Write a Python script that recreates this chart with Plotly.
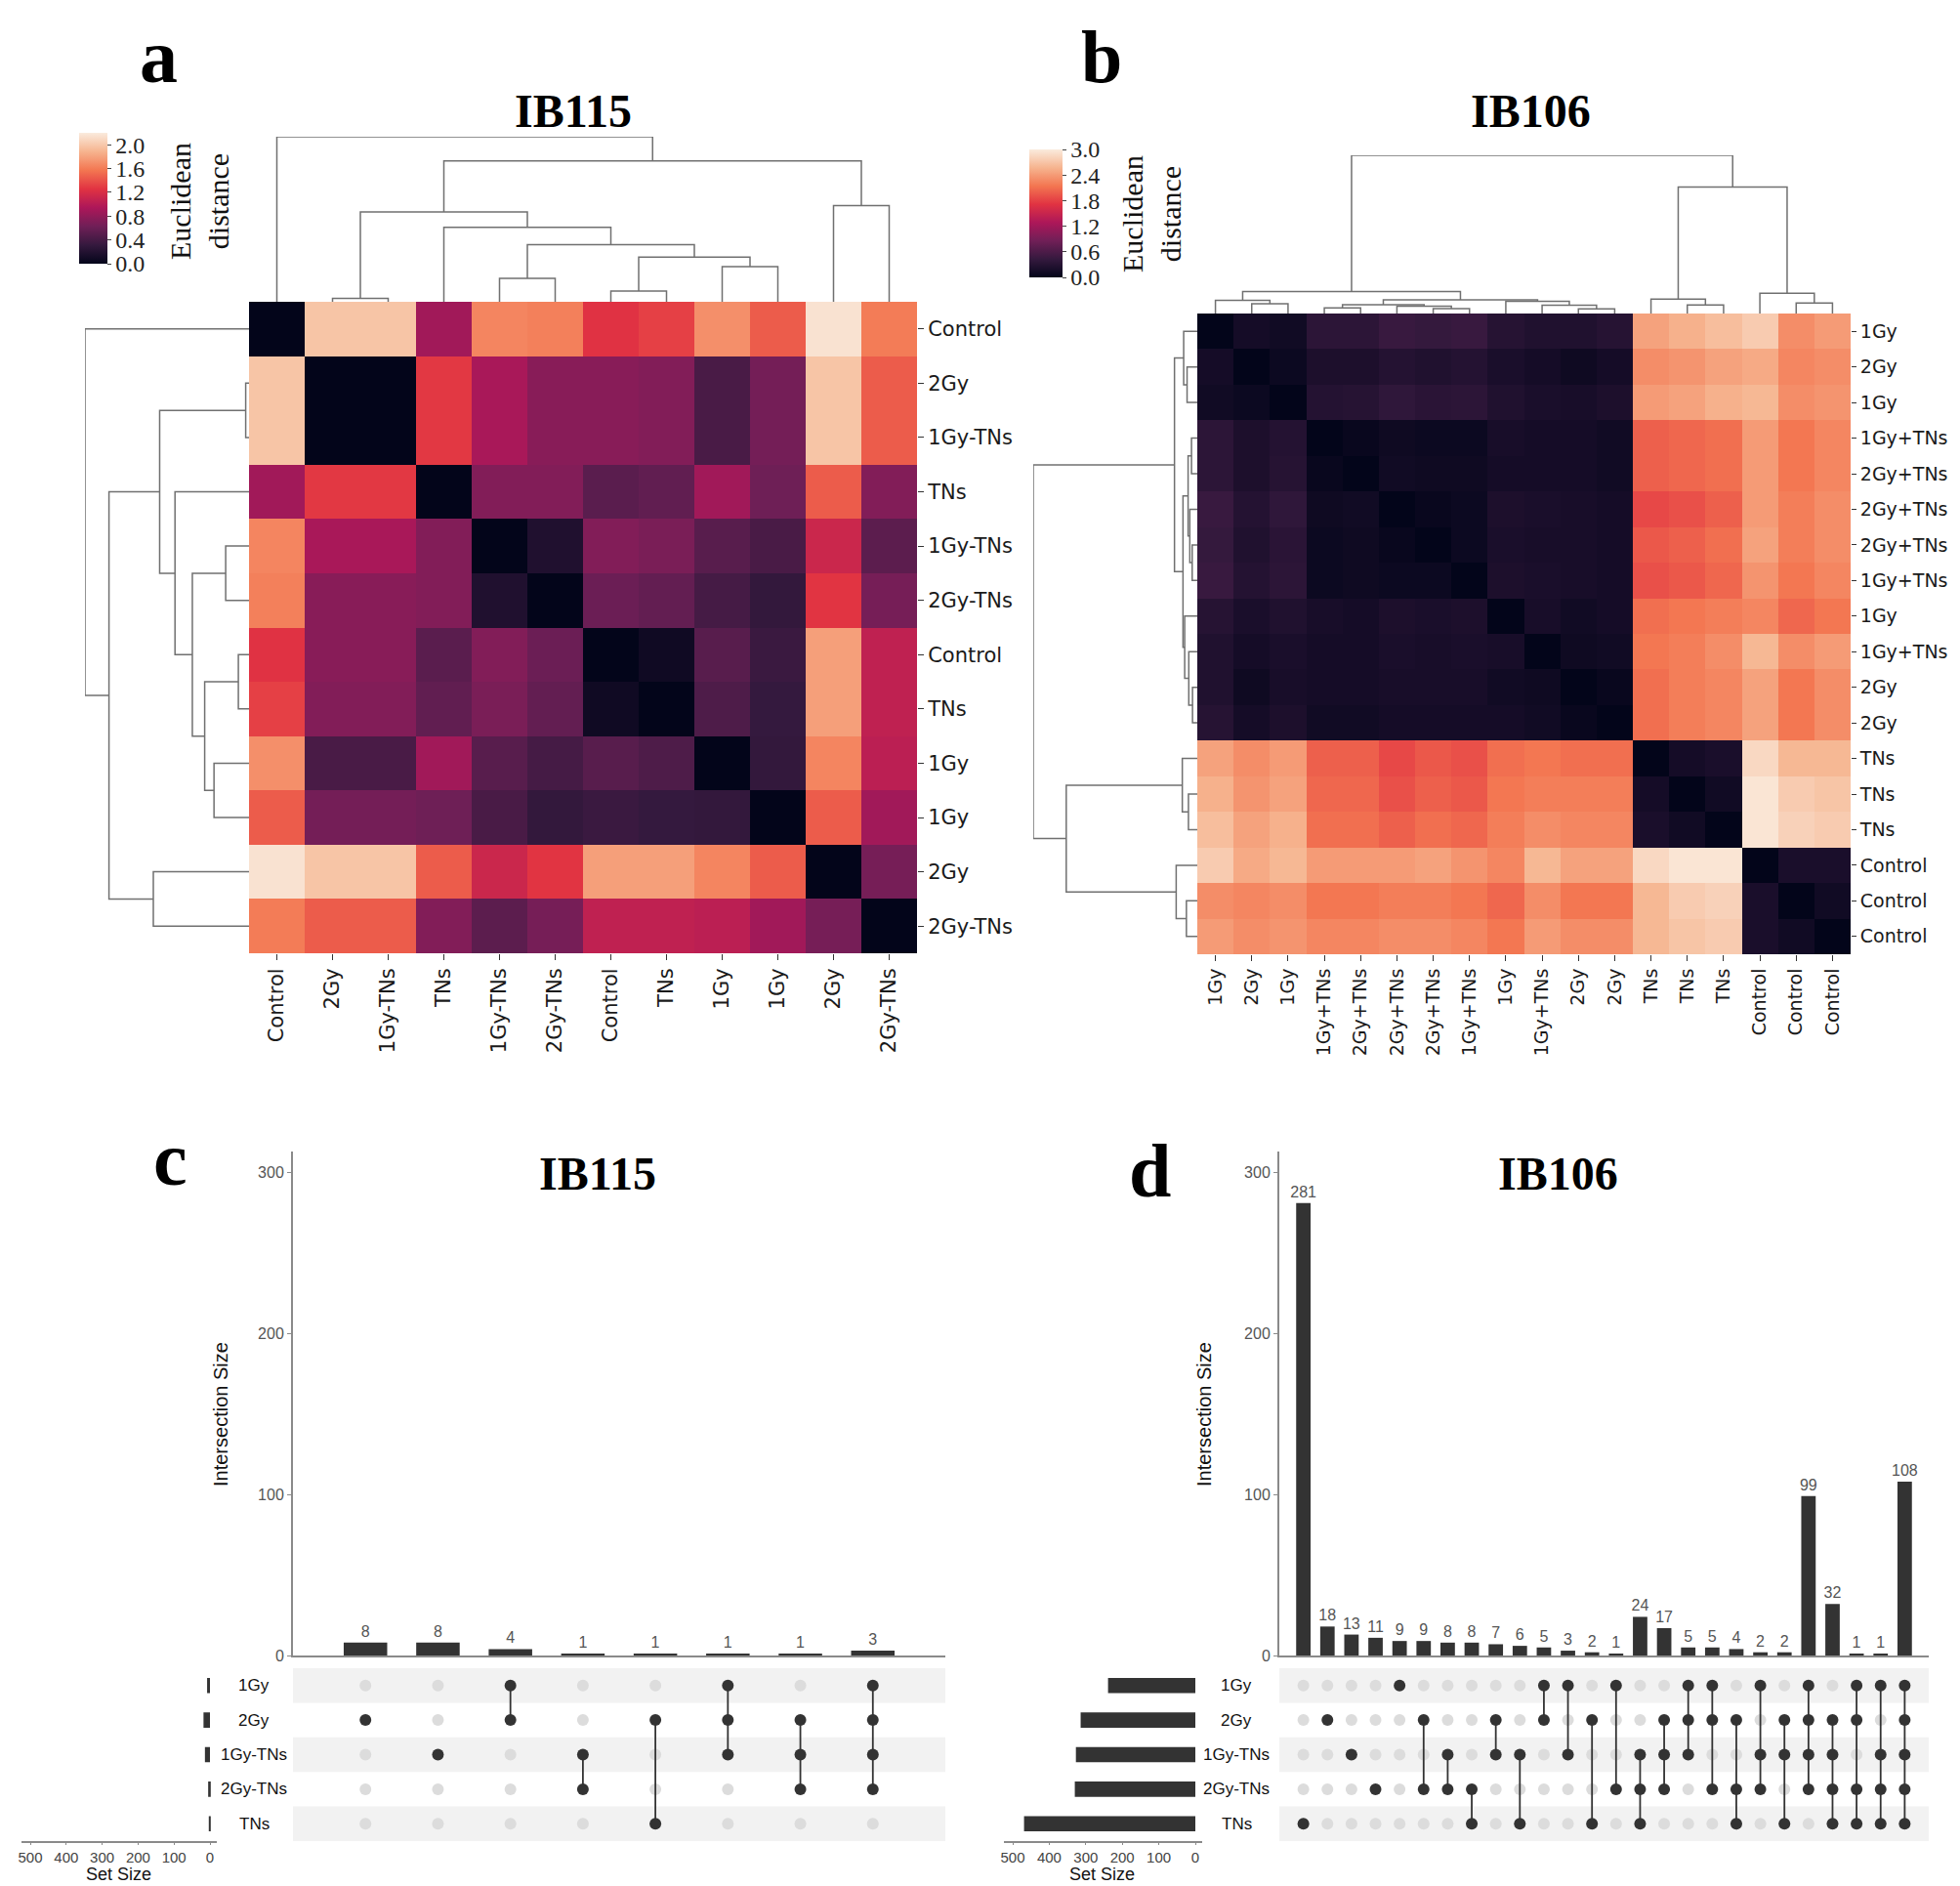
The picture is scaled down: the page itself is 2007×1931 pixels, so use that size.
import plotly.graph_objects as go

# ---------------- data ----------------
labels_a = ["Control", "2Gy", "1Gy-TNs", "TNs", "1Gy-TNs", "2Gy-TNs",
            "Control", "TNs", "1Gy", "1Gy", "2Gy", "2Gy-TNs"]
dist_a = [
    [0.00, 1.98, 1.98, 0.88, 1.65, 1.62, 1.25, 1.32, 1.70, 1.45, 2.15, 1.60],
    [1.98, 0.00, 0.00, 1.28, 0.92, 0.75, 0.75, 0.72, 0.42, 0.65, 1.98, 1.45],
    [1.98, 0.00, 0.00, 1.28, 0.92, 0.75, 0.75, 0.72, 0.42, 0.65, 1.98, 1.45],
    [0.88, 1.28, 1.28, 0.00, 0.72, 0.72, 0.51, 0.55, 0.88, 0.62, 1.45, 0.72],
    [1.65, 0.92, 0.92, 0.72, 0.00, 0.18, 0.72, 0.68, 0.50, 0.42, 1.12, 0.52],
    [1.62, 0.75, 0.75, 0.72, 0.18, 0.00, 0.60, 0.56, 0.40, 0.30, 1.26, 0.66],
    [1.25, 0.75, 0.75, 0.51, 0.72, 0.60, 0.00, 0.08, 0.50, 0.34, 1.78, 1.05],
    [1.32, 0.72, 0.72, 0.55, 0.68, 0.56, 0.08, 0.00, 0.45, 0.31, 1.78, 1.05],
    [1.70, 0.42, 0.42, 0.88, 0.50, 0.40, 0.50, 0.45, 0.00, 0.30, 1.65, 1.03],
    [1.45, 0.65, 0.65, 0.62, 0.42, 0.30, 0.34, 0.31, 0.30, 0.00, 1.45, 0.88],
    [2.15, 1.98, 1.98, 1.45, 1.12, 1.26, 1.78, 1.78, 1.65, 1.45, 0.00, 0.66],
    [1.60, 1.45, 1.45, 0.72, 0.52, 0.66, 1.05, 1.05, 1.03, 0.88, 0.66, 0.00],
]
# linkage: (child_a, child_b, merge height); new clusters numbered from n upward
linkage_a = [(1, 2, 10), (4, 5, 70), (6, 7, 32), (8, 9, 105), (14, 15, 133),
             (13, 16, 170), (3, 17, 222), (12, 18, 268), (10, 11, 287),
             (19, 20, 420), (0, 21, 492)]
cbar_ticks_a = [0.0, 0.4, 0.8, 1.2, 1.6, 2.0]

labels_b = ["1Gy", "2Gy", "1Gy", "1Gy+TNs", "2Gy+TNs", "2Gy+TNs", "2Gy+TNs",
            "1Gy+TNs", "1Gy", "1Gy+TNs", "2Gy", "2Gy", "TNs", "TNs", "TNs",
            "Control", "Control", "Control"]
dist_b = [
    [0, .15, .12, .35, .35, .45, .42, .45, .30, .25, .25, .30, 2.45, 2.55, 2.65, 2.75, 2.30, 2.40],
    [.15, 0, .08, .22, .22, .28, .25, .28, .20, .15, .10, .15, 2.30, 2.35, 2.45, 2.50, 2.25, 2.30],
    [.12, .08, 0, .28, .30, .38, .33, .35, .25, .20, .18, .22, 2.40, 2.45, 2.55, 2.60, 2.30, 2.35],
    [.35, .22, .28, 0, .05, .10, .08, .08, .18, .15, .15, .12, 2.00, 2.05, 2.10, 2.40, 2.15, 2.25],
    [.35, .22, .30, .05, 0, .12, .10, .10, .15, .15, .15, .12, 2.00, 2.05, 2.10, 2.40, 2.15, 2.25],
    [.45, .28, .38, .10, .12, 0, .05, .08, .22, .20, .18, .15, 1.85, 1.90, 2.00, 2.40, 2.20, 2.30],
    [.42, .25, .33, .08, .10, .05, 0, .08, .20, .18, .18, .15, 1.95, 2.00, 2.10, 2.45, 2.20, 2.30],
    [.45, .28, .35, .08, .10, .08, .08, 0, .22, .20, .18, .15, 1.90, 1.95, 2.05, 2.35, 2.15, 2.25],
    [.30, .20, .25, .18, .15, .22, .20, .22, 0, .18, .12, .15, 2.10, 2.15, 2.20, 2.25, 2.05, 2.15],
    [.25, .15, .20, .15, .15, .20, .18, .20, .18, 0, .10, .12, 2.15, 2.20, 2.30, 2.60, 2.30, 2.40],
    [.25, .10, .18, .15, .15, .18, .18, .18, .12, .10, 0, .05, 2.10, 2.20, 2.25, 2.45, 2.15, 2.30],
    [.30, .15, .22, .12, .12, .15, .15, .15, .15, .12, .05, 0, 2.10, 2.20, 2.25, 2.45, 2.15, 2.30],
    [2.45, 2.30, 2.40, 2.00, 2.00, 1.85, 1.95, 1.90, 2.10, 2.15, 2.10, 2.10, 0, .15, .20, 2.85, 2.60, 2.60],
    [2.55, 2.35, 2.45, 2.05, 2.05, 1.90, 2.00, 1.95, 2.15, 2.20, 2.20, 2.20, .15, 0, .12, 2.95, 2.75, 2.70],
    [2.65, 2.45, 2.55, 2.10, 2.10, 2.00, 2.10, 2.05, 2.20, 2.30, 2.25, 2.25, .20, .12, 0, 2.95, 2.80, 2.75],
    [2.75, 2.50, 2.60, 2.40, 2.40, 2.40, 2.45, 2.35, 2.25, 2.60, 2.45, 2.45, 2.85, 2.95, 2.95, 0, .20, .20],
    [2.30, 2.25, 2.30, 2.15, 2.15, 2.20, 2.20, 2.15, 2.05, 2.30, 2.15, 2.15, 2.60, 2.75, 2.80, .20, 0, .12],
    [2.40, 2.30, 2.35, 2.25, 2.25, 2.30, 2.30, 2.25, 2.15, 2.40, 2.30, 2.30, 2.60, 2.70, 2.75, .20, .12, 0],
]
linkage_b = [(1, 2, 30), (0, 18, 40), (3, 4, 17), (6, 7, 15), (5, 21, 22),
             (20, 22, 27), (10, 11, 14), (9, 24, 25), (8, 25, 37), (23, 26, 42),
             (19, 27, 67), (13, 14, 26), (12, 29, 44), (16, 17, 32), (15, 31, 62),
             (30, 32, 385), (28, 33, 482)]
cbar_ticks_b = [0.0, 0.6, 1.2, 1.8, 2.4, 3.0]

set_names = ["1Gy", "2Gy", "1Gy-TNs", "2Gy-TNs", "TNs"]

inter_c_sets = [["2Gy"], ["1Gy-TNs"], ["1Gy", "2Gy"], ["1Gy-TNs", "2Gy-TNs"],
                ["2Gy", "TNs"], ["1Gy", "2Gy", "1Gy-TNs"],
                ["2Gy", "1Gy-TNs", "2Gy-TNs"], ["1Gy", "2Gy", "1Gy-TNs", "2Gy-TNs"]]
inter_c_sizes = [8, 8, 4, 1, 1, 1, 1, 3]

inter_d_sets = [["TNs"], ["2Gy"], ["1Gy-TNs"], ["2Gy-TNs"], ["1Gy"],
                ["2Gy", "2Gy-TNs"], ["1Gy-TNs", "2Gy-TNs"], ["2Gy-TNs", "TNs"],
                ["2Gy", "1Gy-TNs"], ["1Gy-TNs", "TNs"], ["1Gy", "2Gy"],
                ["1Gy", "1Gy-TNs"], ["2Gy", "TNs"], ["1Gy", "2Gy-TNs"],
                ["1Gy-TNs", "2Gy-TNs", "TNs"], ["2Gy", "1Gy-TNs", "2Gy-TNs"],
                ["1Gy", "2Gy", "1Gy-TNs"], ["1Gy", "2Gy", "2Gy-TNs"],
                ["2Gy", "2Gy-TNs", "TNs"], ["1Gy", "1Gy-TNs", "2Gy-TNs"],
                ["2Gy", "1Gy-TNs", "TNs"], ["1Gy", "2Gy", "1Gy-TNs", "2Gy-TNs"],
                ["2Gy", "1Gy-TNs", "2Gy-TNs", "TNs"], ["1Gy", "2Gy", "2Gy-TNs", "TNs"],
                ["1Gy", "1Gy-TNs", "2Gy-TNs", "TNs"],
                ["1Gy", "2Gy", "1Gy-TNs", "2Gy-TNs", "TNs"]]
inter_d_sizes = [281, 18, 13, 11, 9, 9, 8, 8, 7, 6, 5, 3, 2, 1, 24, 17, 5, 5, 4,
                 2, 2, 99, 32, 1, 1, 108]

size_ticks = [0, 100, 200, 300]
setsize_ticks = [0, 100, 200, 300, 400, 500]

# ---------------- helpers ----------------
W, H = 2007, 1931


def fx(p):
    return p / W


def fy(p):
    return 1 - p / H


rocket = [[0.0, "#03051A"], [1 / 7, "#35193E"], [2 / 7, "#701F57"],
          [3 / 7, "#AD1759"], [4 / 7, "#E13342"], [5 / 7, "#F37651"],
          [6 / 7, "#F6B48F"], [1.0, "#FAEBDD"]]

SERIF = "Liberation Serif"
SANS = "Liberation Sans"
DEJAVU = "DejaVu Sans"

fig = go.Figure()
lay = {}
annotations = []
shapes = []


def dendro_xy(linkage, n):
    pos = [float(i) for i in range(n)]
    hgt = [0.0] * n
    xs, ys = [], []
    for a, b, h in linkage:
        xs += [pos[a], pos[a], pos[b], pos[b], None]
        ys += [hgt[a], h, h, hgt[b], None]
        pos.append((pos[a] + pos[b]) / 2)
        hgt.append(h)
    return xs, ys, max(hgt)


def hidden_axis(domain, rng, anchor):
    return dict(domain=domain, range=rng, visible=False, showgrid=False,
                zeroline=False, anchor=anchor, fixedrange=True)


def heat_panel(z, labels, linkage, zmax, ticks, ids, hx, hy, top_y, left_x,
               cb, eu_xy, title_xy, title, letter_xy, letter, letter_size, lab_size,
               tlen):
    n = len(labels)
    ih, it, il = ids
    sx = lambda i: "" if i == 1 else str(i)
    fig.add_trace(go.Heatmap(
        z=z, x=list(range(n)), y=list(range(n)), colorscale=rocket,
        zmin=0, zmax=zmax, xaxis="x" + sx(ih), yaxis="y" + sx(ih),
        hoverinfo="skip",
        colorbar=dict(x=fx(cb[0]), xanchor="left", y=fy((cb[2] + cb[3]) / 2),
                      yanchor="middle", len=cb[3] - cb[2], lenmode="pixels",
                      thickness=cb[1] - cb[0], thicknessmode="pixels",
                      tickvals=ticks, tickformat=".1f", ticks="outside",
                      ticklen=4, tickcolor="#444", outlinewidth=0,
                      xpad=0, ypad=0,
                      tickfont=dict(family=SERIF, size=24, color="#222"))))
    tf = dict(family=DEJAVU, size=lab_size, color="#1a1a1a")
    lay["xaxis" + sx(ih)] = dict(
        domain=[fx(hx[0]), fx(hx[1])], range=[-0.5, n - 0.5], anchor="y" + sx(ih),
        tickvals=list(range(n)), ticktext=labels, tickangle=-90, ticks="outside",
        ticklen=6, tickcolor="#333", showgrid=False, zeroline=False, showline=False,
        tickfont=tf, fixedrange=True)
    lay["yaxis" + sx(ih)] = dict(
        domain=[fy(hy[1]), fy(hy[0])], range=[n - 0.5, -0.5], anchor="x" + sx(ih),
        side="right", tickvals=list(range(n)), ticktext=labels, ticks="outside",
        ticklen=tlen, tickcolor="#333", showgrid=False, zeroline=False, showline=False,
        tickfont=tf, fixedrange=True)
    xs, ys, mh = dendro_xy(linkage, n)
    line = dict(color="#707070", width=1.5)
    fig.add_trace(go.Scatter(x=xs, y=ys, mode="lines", line=line,
                             xaxis="x" + sx(it), yaxis="y" + sx(it),
                             hoverinfo="skip", showlegend=False))
    lay["xaxis" + sx(it)] = hidden_axis([fx(hx[0]), fx(hx[1])], [-0.5, n - 0.5], "y" + sx(it))
    lay["yaxis" + sx(it)] = hidden_axis([fy(hy[0]), fy(top_y)], [0, mh], "x" + sx(it))
    fig.add_trace(go.Scatter(x=ys, y=xs, mode="lines", line=line,
                             xaxis="x" + sx(il), yaxis="y" + sx(il),
                             hoverinfo="skip", showlegend=False))
    lay["xaxis" + sx(il)] = hidden_axis([fx(left_x), fx(hx[0])], [mh, 0], "y" + sx(il))
    lay["yaxis" + sx(il)] = hidden_axis([fy(hy[1]), fy(hy[0])], [n - 0.5, -0.5], "x" + sx(il))
    annotations.append(dict(text="Euclidean<br>distance", x=fx(eu_xy[0]), y=fy(eu_xy[1]),
                            xref="paper", yref="paper", textangle=-90, showarrow=False,
                            font=dict(family=SERIF, size=30, color="#111"),
                            xanchor="center", yanchor="middle"))
    annotations.append(dict(text="<b>%s</b>" % title, x=fx(title_xy[0]), y=fy(title_xy[1]),
                            xref="paper", yref="paper", showarrow=False,
                            font=dict(family=SERIF, size=48, color="#000"),
                            xanchor="center", yanchor="middle"))
    annotations.append(dict(text="<b>%s</b>" % letter, x=fx(letter_xy[0]), y=fy(letter_xy[1]),
                            xref="paper", yref="paper", showarrow=False, borderpad=0,
                            font=dict(family=SERIF, size=letter_size, color="#000"),
                            xanchor="center", yanchor="middle"))


def upset_panel(inter_sets, inter_sizes, ids, bx, xr, by_top, by_zero, ymax,
                my, ss_x0, ss_w, name_x, isize_x, title_xy, title, letter_xy,
                letter, setsize_xy):
    ib, im, iss = ids
    sx = lambda i: str(i)
    n = len(inter_sizes)
    cols = list(range(n))
    fig.add_trace(go.Bar(x=cols, y=inter_sizes, width=0.6, marker_color="#333333",
                         marker_line_width=0, text=[str(v) for v in inter_sizes],
                         textposition="outside", constraintext="none", cliponaxis=False,
                         textfont=dict(family=SANS, size=16, color="#555555"),
                         xaxis="x" + sx(ib), yaxis="y" + sx(ib), hoverinfo="skip",
                         showlegend=False))
    lay["xaxis" + sx(ib)] = dict(domain=[fx(bx[0]), fx(bx[1])], range=xr,
                                 anchor="y" + sx(ib), showticklabels=False, ticks="",
                                 showgrid=False, zeroline=False, showline=True,
                                 linecolor="#8a8a8a", linewidth=2, fixedrange=True)
    lay["yaxis" + sx(ib)] = dict(domain=[fy(by_zero), fy(by_top)], range=[0, ymax],
                                 anchor="x" + sx(ib), tickvals=size_ticks, ticks="outside",
                                 ticklen=4, tickcolor="#8a8a8a", showgrid=False,
                                 zeroline=False, showline=True, linecolor="#8a8a8a",
                                 linewidth=2,
                                 tickfont=dict(family=SANS, size=16, color="#555555"),
                                 fixedrange=True)
    # matrix
    k = len(set_names)
    for i in range(k):
        if i % 2 == 0:
            shapes.append(dict(type="rect", xref="x" + sx(im), yref="y" + sx(im),
                               x0=xr[0], x1=xr[1], y0=i - 0.5, y1=i + 0.5,
                               fillcolor="#f2f2f2", line_width=0, layer="below"))
    gx, gy, dx, dy, lx, ly = [], [], [], [], [], []
    for c, members in enumerate(inter_sets):
        rows = [set_names.index(m) for m in members]
        for r in range(k):
            if r in rows:
                dx.append(c); dy.append(r)
            else:
                gx.append(c); gy.append(r)
        if len(rows) > 1:
            lx += [c, c, None]
            ly += [min(rows), max(rows), None]
    fig.add_trace(go.Scatter(x=gx, y=gy, mode="markers",
                             marker=dict(size=12, color="#dcdcdc"),
                             xaxis="x" + sx(im), yaxis="y" + sx(im),
                             hoverinfo="skip", showlegend=False))
    fig.add_trace(go.Scatter(x=lx, y=ly, mode="lines",
                             line=dict(color="#333333", width=1.8),
                             xaxis="x" + sx(im), yaxis="y" + sx(im),
                             hoverinfo="skip", showlegend=False))
    fig.add_trace(go.Scatter(x=dx, y=dy, mode="markers",
                             marker=dict(size=12, color="#333333"),
                             xaxis="x" + sx(im), yaxis="y" + sx(im),
                             hoverinfo="skip", showlegend=False))
    lay["xaxis" + sx(im)] = hidden_axis([fx(bx[0]), fx(bx[1])], xr, "y" + sx(im))
    lay["yaxis" + sx(im)] = hidden_axis([fy(my[1]), fy(my[0])], [k - 0.5, -0.5], "x" + sx(im))
    # set sizes
    set_sizes = [sum(v for s, v in zip(inter_sets, inter_sizes) if name in s)
                 for name in set_names]
    fig.add_trace(go.Bar(x=set_sizes, y=list(range(k)), orientation="h", width=0.44,
                         marker_color="#333333", marker_line_width=0,
                         xaxis="x" + sx(iss), yaxis="y" + sx(iss), hoverinfo="skip",
                         showlegend=False))
    lo, hi = 525, -20
    lay["xaxis" + sx(iss)] = dict(domain=[fx(ss_x0 - ss_w * lo), fx(ss_x0 - ss_w * hi)],
                                  range=[lo, hi], anchor="y" + sx(iss),
                                  tickvals=setsize_ticks, ticks="outside", ticklen=2,
                                  tickcolor="#8a8a8a", showline=True, linecolor="#8a8a8a",
                                  linewidth=1.5, showgrid=False, zeroline=False,
                                  tickfont=dict(family=SANS, size=15, color="#444444"),
                                  fixedrange=True)
    lay["yaxis" + sx(iss)] = hidden_axis([fy(my[1]), fy(my[0])], [k - 0.5, -0.5], "x" + sx(iss))
    for i, name in enumerate(set_names):
        annotations.append(dict(text=name, x=fx(name_x), y=i, xref="paper",
                                yref="y" + sx(im), showarrow=False,
                                font=dict(family=SANS, size=17, color="#111"),
                                xanchor="center", yanchor="middle"))
    annotations.append(dict(text="Set Size", x=fx(setsize_xy[0]), y=fy(setsize_xy[1]),
                            xref="paper", yref="paper", showarrow=False, borderpad=0,
                            font=dict(family=SANS, size=18, color="#111"),
                            xanchor="center", yanchor="middle"))
    annotations.append(dict(text="Intersection Size", x=fx(isize_x), y=fy(1440),
                            xref="paper", yref="paper", showarrow=False, textangle=-90,
                            font=dict(family=SANS, size=20, color="#111"),
                            xanchor="center", yanchor="middle"))
    annotations.append(dict(text="<b>%s</b>" % title, x=fx(title_xy[0]), y=fy(title_xy[1]),
                            xref="paper", yref="paper", showarrow=False,
                            font=dict(family=SERIF, size=48, color="#000"),
                            xanchor="center", yanchor="middle"))
    annotations.append(dict(text="<b>%s</b>" % letter, x=fx(letter_xy[0]), y=fy(letter_xy[1]),
                            xref="paper", yref="paper", showarrow=False,
                            font=dict(family=SERIF, size=78, color="#000"),
                            xanchor="center", yanchor="middle"))


# ---------------- panels ----------------
heat_panel(dist_a, labels_a, linkage_a, 2.2, cbar_ticks_a, (1, 2, 3),
           hx=(247, 931), hy=(301, 968), top_y=132, left_x=79,
           cb=(73, 102, 128, 262), eu_xy=(196, 198), title_xy=(579, 106),
           title="IB115", letter_xy=(154, 50), letter="a", letter_size=78, lab_size=21,
           tlen=6)

heat_panel(dist_b, labels_b, linkage_b, 3.0, cbar_ticks_b, (4, 5, 6),
           hx=(1218, 1887), hy=(313, 969), top_y=151, left_x=1050,
           cb=(1046, 1080, 145, 276), eu_xy=(1171, 211), title_xy=(1559, 106),
           title="IB106", letter_xy=(1120, 50), letter="b", letter_size=76, lab_size=19,
           tlen=5)

upset_panel(inter_c_sets, inter_c_sizes, (7, 8, 9), bx=(292, 960), xr=[-1, 8],
            by_top=1171, by_zero=1687, ymax=313, my=(1700, 1877),
            ss_x0=207, ss_w=0.368, name_x=252, isize_x=218,
            title_xy=(604, 1193), title="IB115", letter_xy=(166, 1178), letter="c",
            setsize_xy=(113, 1911))

upset_panel(inter_d_sets, inter_d_sizes, (10, 11, 12), bx=(1302, 1967), xr=[-1, 26],
            by_top=1171, by_zero=1687, ymax=313, my=(1700, 1877),
            ss_x0=1216, ss_w=0.374, name_x=1258, isize_x=1225,
            title_xy=(1587, 1193), title="IB106", letter_xy=(1169, 1190), letter="d",
            setsize_xy=(1120, 1911))

fig.update_layout(width=W, height=H, margin=dict(l=0, r=0, t=0, b=0, autoexpand=False),
                  paper_bgcolor="white", plot_bgcolor="rgba(0,0,0,0)",
                  showlegend=False, annotations=annotations, shapes=shapes,
                  font=dict(family=SANS), **lay)

fig.write_html("out.html")
